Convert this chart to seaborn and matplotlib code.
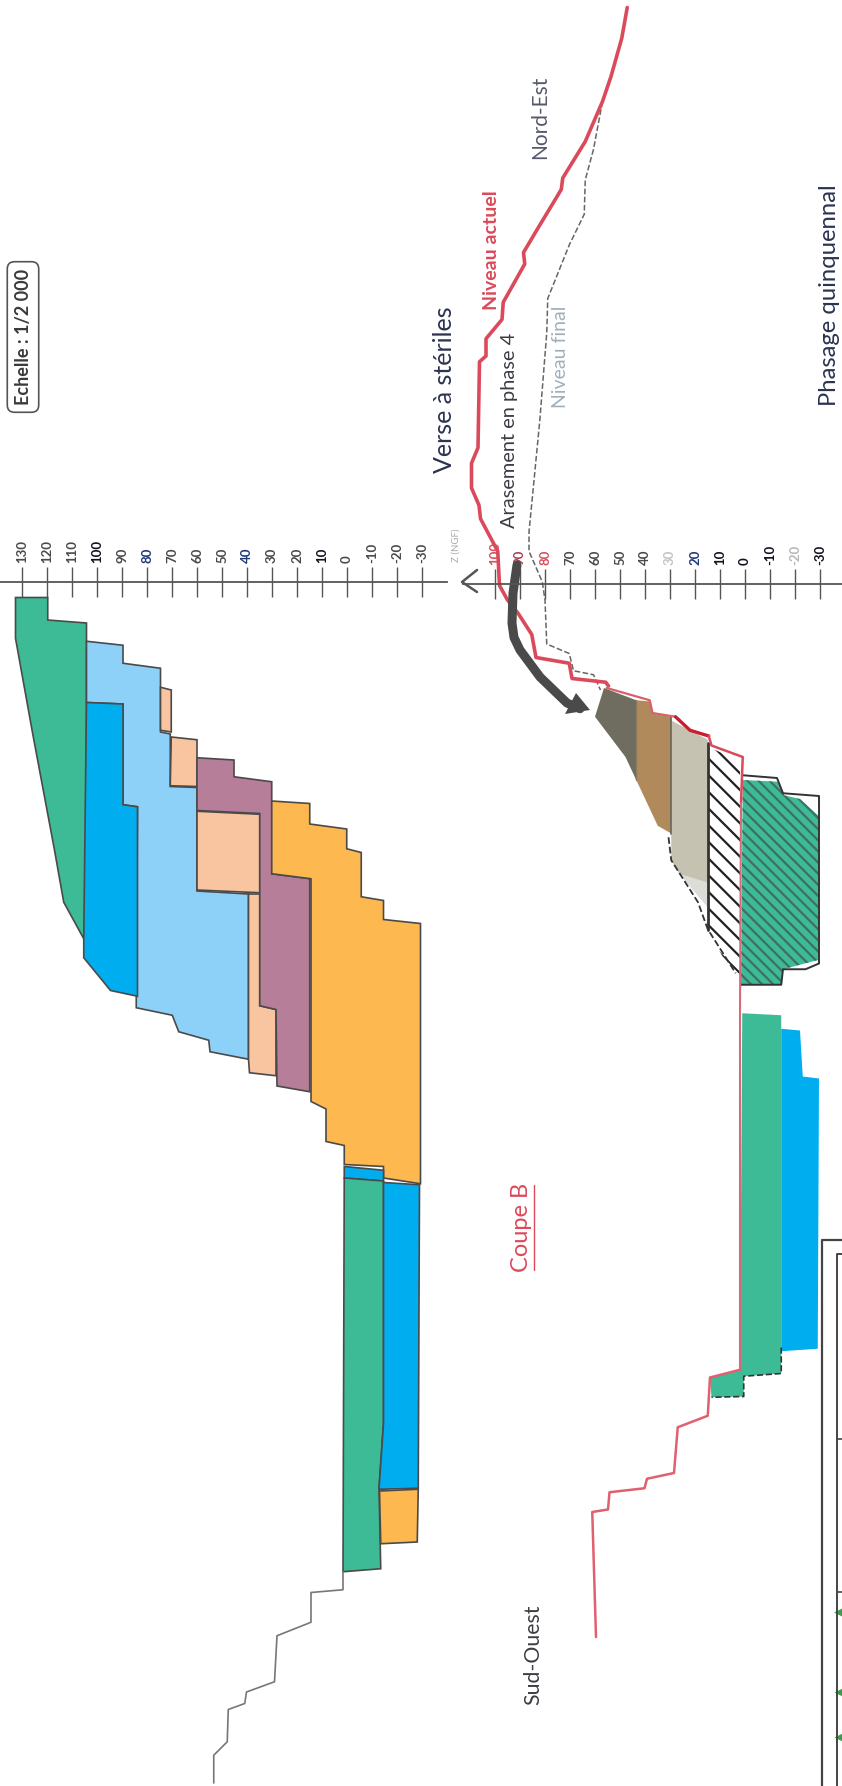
import matplotlib
matplotlib.use('Agg')
from matplotlib import pyplot as plt
import seaborn as sns

# elevation (m NGF) and distance along the section (m)
left_ticks = [130, 120, 110, 100, 90, 80, 70, 60, 50, 40, 30, 20, 10, 0, -10, -20, -30]
right_ticks = [100, 90, 80, 70, 60, 50, 40, 30, 20, 10, 0, -10, -20, -30]
left_tick_colors = {80: '#1f3a7a', 40: '#1f3a7a', 100: '#111122', 10: '#111122'}
right_tick_colors = {100: '#d9505c', 90: '#b04050', 80: '#d9505c', 30: '#c4c4c4', 20: '#1f3a7a',
                     -20: '#b8b8b8', 10: '#111122', 0: '#111122', -10: '#111122', -30: '#111122'}

# coupe A
green_top_e = [132.6, 119.7, 119.7, 104.2, 104.2, 105.3, 113.3, 117.1, 125.7, 132.6]
green_top_d = [239, 239, 248, 249.2, 374.7, 375.5, 360.9, 339.5, 293.6, 255.3]
light_blue_e = [104.2, 89.6, 89.6, 74.6, 74.6, 70.7, 70.7, 60, 60, 39.4, 39.4, 54.8, 55.3, 67.3, 69.9, 84.3, 84.3, 83.8, 89.6, 89.6, 104.2]
light_blue_d = [256.5, 258.1, 265.3, 267.3, 292.8, 293.6, 314.6, 315, 356.4, 357.6, 423.7, 420.7, 416.1, 412.7, 406.1, 403.1, 398.5, 322.7, 321.9, 281.6, 281]
dark_blue_e = [104.2, 89.6, 89.6, 83.8, 83.8, 94.6, 105.3, 105.3]
dark_blue_d = [281, 281.6, 321.9, 322.7, 398.5, 396.2, 383.1, 374.7]
peach_a_e = [74.6, 70.3, 70.3, 74.6]
peach_a_d = [274.9, 276, 292.8, 292.1]
peach_b_e = [70.3, 60, 60, 70.7]
peach_b_d = [294.8, 295.9, 314.6, 314.3]
peach_c_e = [60, 34.9, 34.9, 60]
peach_c_d = [324.5, 325.7, 357.1, 356]
peach_d_e = [39.4, 34.9, 34.9, 28.4, 28.4, 39, 39.4]
peach_d_d = [357.6, 357.6, 402.3, 403.8, 430.3, 429.1, 423.7]
mauve_e = [60, 45.2, 45.2, 30.1, 30.1, 14.9, 14.9, 28, 28.4, 34.9, 34.9, 60]
mauve_d = [303.1, 304, 310.7, 312.7, 349.5, 351.5, 436.7, 434.4, 403.8, 402.3, 325.4, 324.2]
orange_e = [30.1, 14.9, 14.9, 0.1, 0.1, -5.7, -5.7, -14.6, -14.6, -29.4, -29.4, -14.6, -14.6, 1.1, 1.1, 8.4, 8.4, 14.4, 14.4, 30.1]
orange_d = [320.4, 321.4, 329.6, 331.6, 339.5, 341, 358.7, 360.2, 367.8, 369.4, 473.5, 471.2, 466.6, 465.8, 458.2, 456.6, 443.6, 440.6, 351.5, 349.5]
blue_small_e = [1.1, -14.6, -14.6, 1.1]
blue_small_d = [466.6, 468.1, 472.4, 471.2]
green_low_e = [1.1, -14.6, -14.6, -12.8, -13.5, 1.6]
green_low_d = [471.2, 472.4, 569.3, 595.3, 627.5, 628.7]
blue_low_e = [-14.6, -29, -28.5, -12.8, -14.6]
blue_low_d = [473, 473.9, 595.3, 595.7, 569.3]
orange_low_e = [-13, -28.5, -28.1, -13.5]
orange_low_d = [596.4, 595.7, 616.8, 617.5]
ground_a_e = [1.6, 1.6, 14.4, 14.4, 28, 29, 40.2, 40.9, 47.5, 47.9, 53.3, 53.3]
ground_a_d = [628.7, 635.9, 637, 648.9, 654.3, 672.7, 676.8, 681.4, 683.8, 696.7, 702.1, 713.2]

# coupe B
actuel_e = [47.1, 49.3, 53.6, 57, 63.9, 72.9, 73.5, 83.2, 88.6, 88.1, 96.7, 97.2, 103.6, 103.6, 106.2, 106.8, 109.4, 109.4, 106.4, 105.8, 98.9, 98.2, 95, 90.7, 85.3, 83.6, 70.3, 69.2, 55.7, 54.6]
actuel_d = [3, 15.3, 30.6, 40.6, 56.6, 71.2, 75.8, 91.9, 101, 105.6, 120.9, 127.8, 135.5, 142.4, 144.7, 179.1, 185.3, 195.2, 202.1, 207.5, 220.5, 234.2, 240, 245.4, 253.8, 263, 265.3, 271.4, 272.9, 274.4]
bench_e = [55.3, 38.1, 37, 27.8]
bench_d = [275.2, 280.1, 285.2, 286.7]
arase_e = [27.8, 22, 14.5]
arase_d = [286.7, 292.1, 294.4]
lip_e = [14.5, 13.4, 0.9, 1.6]
lip_d = [294.4, 298.2, 302.8, 321.1]
pit_e = [1.6, 2, 2]
pit_d = [321.1, 405.3, 547.9]
ground_b_e = [2, 14, 14.9, 26.9, 28.4, 39.2, 40.2, 54.2, 54.8, 61.1, 59.6]
ground_b_d = [547.9, 551, 566.3, 570.9, 589.2, 591.5, 595.3, 596.9, 603.8, 604.8, 654.8]
final_e = [57, 60.6, 63.9, 64.3, 70.3, 78.9, 79.3, 82.1, 86.4, 86.4, 81.1, 80, 79.3, 70.3, 68.6, 60.6, 57.8]
final_d = [40.6, 59.7, 72, 85.7, 98, 119.4, 133.2, 168.4, 212.8, 220.5, 232.7, 240, 257.6, 261.4, 268.3, 269.9, 276]
arrow_e = [91.2, 92.8, 93.2, 92.4, 90, 82, 71.2, 66]
arrow_d = [226, 237.2, 249.2, 255, 260, 270.8, 281.2, 283.5]
arrow_head_e = [62, 67.6, 72]
arrow_head_d = [284, 277.2, 285.6]
dark_grey_e = [56.4, 43.5, 43.5, 47.8, 60]
dark_grey_d = [275.2, 280.1, 312, 302.8, 286.7]
brown_e = [43.5, 37.7, 37, 29.5, 29.5, 34.9, 43.5]
brown_d = [280.1, 280.6, 285.5, 286.7, 333.4, 330.3, 312]
pale_e = [29.5, 14.9, 14.9, 26.3, 29.5]
pale_d = [288.2, 295.9, 357.9, 349.5, 344.1]
speckle_e = [26.3, 14.9, 14.9]
speckle_d = [349.5, 353, 363]
hatch_white_e = [14.5, 2, 2, 9.1, 14.9]
hatch_white_d = [298.9, 304.3, 390, 382.4, 371.7]
slope_e = [30.6, 29.5, 18.8, 14.9, 3.7]
slope_d = [334.9, 344.1, 360.9, 371.7, 389.3]
green_hatch_e = [0.9, -13.5, -15.6, -22, -29.6, -29.6, -15.2, -14.5, 1.6]
green_hatch_d = [312, 312.7, 318.1, 319.6, 326.5, 383.9, 387.7, 393.9, 393.9]
green_outline_e = [0.9, -12.8, -15.2, -29.6, -29.6, -24.2, -15.2, -14.5, 1.6]
green_outline_d = [310.1, 311.2, 317.3, 318.4, 385.4, 387.7, 387.7, 393.9, 393.9]
green_b_e = [1.1, -14.5, -14.5, 0.5, 0.5, 13.4, 14, 2]
green_b_d = [405.3, 406.1, 549.4, 550.5, 558.6, 558.9, 551, 547.9]
green_b_edge_e = [-14.5, -14.5, 0.5, 0.5, 13.4]
green_b_edge_d = [539, 549.4, 550.5, 558.6, 558.9]
blue_b_e = [-14.5, -22, -23.1, -29.6, -29.1, -14.5]
blue_b_d = [411.5, 412.2, 430.6, 431.4, 539.5, 540.5]
frame_outer_e = [-38.8, -30.8, -30.8]
frame_outer_d = [496, 496, 714.4]
frame_inner_e = [-38.8, -36.8, -36.8]
frame_inner_d = [501.6, 501.6, 714.4]
spur_d = [575.6, 636.8]
map_mark_e = [-37.4, -37.6, -37.6]
map_mark_d = [645, 677, 695]

GREEN = '#3DBB96'
BLUE = '#00AEEF'
LIGHT = '#8ED1F8'
PEACH = '#F9C4A0'
MAUVE = '#B67E98'
ORANGE = '#FDB84F'
EDGE = '#4a4a4a'
RED = '#DB4A5A'
NAVY = '#2b3350'

sns.set_theme(style='white')
plt.rcParams['font.family'] = ['Lato', 'DejaVu Sans']
plt.rcParams['hatch.linewidth'] = 1.6

W, H = 842.0, 1786.0
fig = plt.figure(figsize=(W / 100, H / 100), dpi=100)
ax_a = fig.add_axes([0, 0, 447 / W, 1])
ax_b = fig.add_axes([463 / W, 0, 379 / W, 1])


def line(ax, e, d, color=EDGE, lw=1.2, ls='-'):
    sns.lineplot(x=e, y=d, sort=False, estimator=None, ax=ax, color=color, linewidth=lw, linestyle=ls)


def patch(ax, e, d, color, lw=1.2, edge=EDGE):
    ax.fill(e, d, facecolor=color, edgecolor=edge, linewidth=lw)


for e, d, c in [(green_top_e, green_top_d, GREEN), (light_blue_e, light_blue_d, LIGHT),
                (dark_blue_e, dark_blue_d, BLUE), (peach_a_e, peach_a_d, PEACH),
                (peach_b_e, peach_b_d, PEACH), (peach_c_e, peach_c_d, PEACH),
                (peach_d_e, peach_d_d, PEACH), (mauve_e, mauve_d, MAUVE),
                (orange_e, orange_d, ORANGE), (blue_small_e, blue_small_d, BLUE),
                (green_low_e, green_low_d, GREEN), (blue_low_e, blue_low_d, BLUE),
                (orange_low_e, orange_low_d, ORANGE)]:
    patch(ax_a, e, d, c)
line(ax_a, ground_a_e, ground_a_d, color='#777777', lw=1.2)

patch(ax_b, dark_grey_e, dark_grey_d, '#6f6c60', lw=0, edge='none')
patch(ax_b, brown_e, brown_d, '#B08A5B', lw=0, edge='none')
patch(ax_b, pale_e, pale_d, '#C5C2B2', lw=0, edge='none')
patch(ax_b, speckle_e, speckle_d, '#dcdcd8', lw=0, edge='none')
ax_b.fill(hatch_white_e, hatch_white_d, facecolor='white', edgecolor='#222222', hatch='\\\\', linewidth=0)
ax_b.fill(green_hatch_e, green_hatch_d, facecolor=GREEN, edgecolor='#3f6f62', hatch='\\\\\\', linewidth=0)
patch(ax_b, green_b_e, green_b_d, GREEN, lw=0, edge='none')
patch(ax_b, blue_b_e, blue_b_d, BLUE, lw=0, edge='none')

line(ax_b, [43.5, 43.5], [280.1, 312], color='#8a7a60', lw=1)
line(ax_b, [29.5, 29.5], [286.7, 333.4], color='#666660', lw=1.2)
line(ax_b, [14.9, 14.9], [297, 372], color='#333333', lw=2)
line(ax_b, slope_e, slope_d, color='#333333', lw=1.3, ls='--')
line(ax_b, green_outline_e, green_outline_d, color='#333333', lw=1.4)
line(ax_b, green_b_edge_e, green_b_edge_d, color='#333333', lw=1.2, ls='--')
line(ax_b, final_e, final_d, color='#666666', lw=1.1, ls='--')
line(ax_b, actuel_e, actuel_d, color=RED, lw=2.6)
line(ax_b, bench_e, bench_d, color='#D9606A', lw=1.6)
line(ax_b, arase_e, arase_d, color='#C81E32', lw=2.4)
line(ax_b, lip_e, lip_d, color=RED, lw=1.8)
line(ax_b, pit_e, pit_d, color='#D8687C', lw=1.5)
line(ax_b, ground_b_e, ground_b_d, color='#E0606F', lw=1.8)
line(ax_b, arrow_e, arrow_d, color='#4a4a4a', lw=6.5)
ax_b.fill(arrow_head_e, arrow_head_d, facecolor='#4a4a4a', edgecolor='none')

line(ax_b, frame_outer_e, frame_outer_d, color='#444444', lw=1.6)
line(ax_b, frame_inner_e, frame_inner_d, color='#444444', lw=1.4)
for sd in spur_d:
    line(ax_b, [-36.8, -38.8], [sd, sd], color='#444444', lw=1.2)
sns.scatterplot(x=map_mark_e, y=map_mark_d, marker='<', s=40, color='#3E9B4F', edgecolor='none', ax=ax_b)

# chevron at the head of the elevation axis
line(ax_b, [107.2, 113.2, 107.2], [228, 232.8, 236.8], color='#555555', lw=1.8)
ax_b.lines[-1].set_clip_on(False)

for ax, lims, ticks, colors, pos in [(ax_a, (138.8, -40), left_ticks, left_tick_colors, 232.8),
                                     (ax_b, (112.8, -38.8), right_ticks, right_tick_colors, 233.4)]:
    ax.set_xlim(*lims)
    ax.set_ylim(714.4, 0)
    ax.patch.set_alpha(0)
    for s in ['left', 'right', 'bottom']:
        ax.spines[s].set_visible(False)
    ax.spines['top'].set_position(('data', pos))
    ax.spines['top'].set_color('#555555')
    ax.spines['top'].set_linewidth(1.3)
    ax.xaxis.set_ticks_position('top')
    ax.set_xticks(ticks)
    ax.set_xticklabels([str(t) for t in ticks], rotation=90, fontsize=9.5, fontweight='bold')
    ax.tick_params(axis='x', which='major', direction='inout', length=21, width=1, color='#555555', pad=3)
    ax.set_yticks([])
    for tick, lab in zip(ticks, ax.get_xticklabels()):
        lab.set_color(colors.get(tick, '#4a4a4a'))

text_kw = dict(rotation=90, ha='center', va='center', clip_on=False)
ax_a.text(129.6, 134.8, 'Echelle : 1/2 000', fontsize=13, fontweight='bold', color='#3a3a3a',
          bbox=dict(boxstyle='round,pad=0.4', fc='white', ec='#555555', lw=1.2), **text_kw)
ax_a.text(-39.2, 155.8, 'Verse à stériles', fontsize=18, color=NAVY, **text_kw)
ax_b.text(101.6, 100, 'Niveau actuel', fontsize=14, fontweight='bold', color=RED, **text_kw)
ax_b.text(94.4, 172, 'Arasement en phase 4', fontsize=14.4, color='#3c3c44', **text_kw)
ax_b.text(82, 47, 'Nord-Est', fontsize=15, color='#55586a', **text_kw)
ax_b.text(73.6, 142.8, 'Niveau final', fontsize=14, color='#9fb0bd', **text_kw)
ax_b.text(-34, 118, 'Phasage quinquennal', fontsize=17.2, color=NAVY, **text_kw)
ax_b.text(89.6, 491, 'Coupe B', fontsize=17, color=RED, **text_kw)
line(ax_b, [84.4, 84.4], [474, 508], color=RED, lw=1)
ax_b.text(84.8, 662, 'Sud-Ouest', fontsize=15.3, color='#3c3c44', **text_kw)
ax_b.text(115.6, 218, 'Z (NGF)', fontsize=7, color='#aaaaaa', **text_kw)

fig.savefig('out.png', dpi=100)
